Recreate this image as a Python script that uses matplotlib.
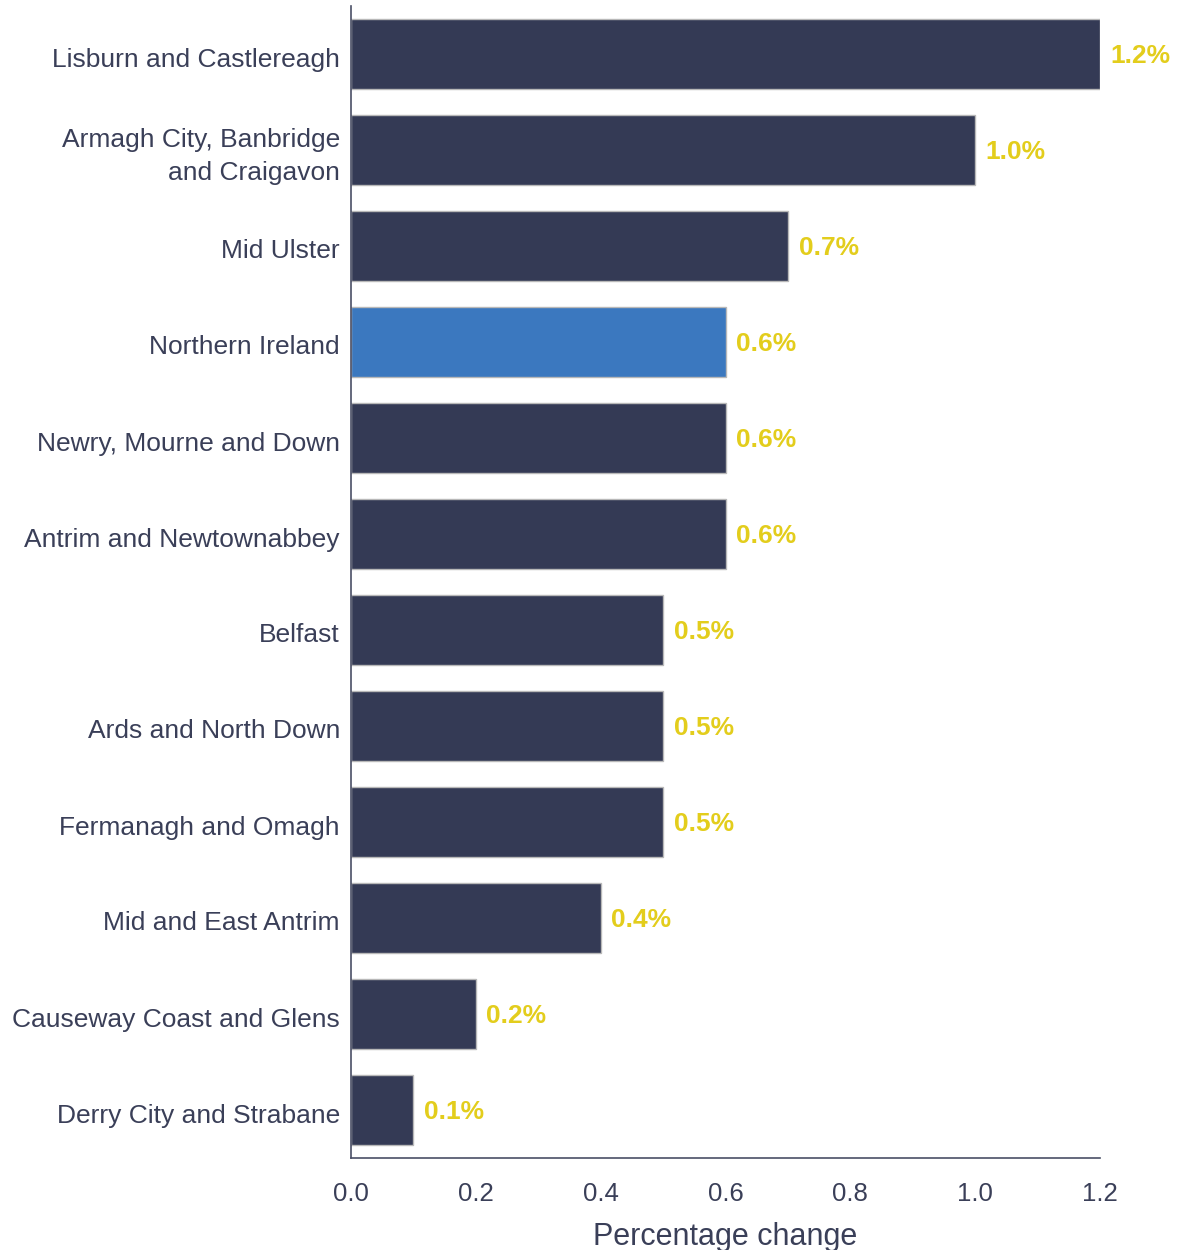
import matplotlib
matplotlib.use("Agg")
import matplotlib.pyplot as plt
import matplotlib.transforms as mtransforms

areas = ["Lisburn and Castlereagh", "Armagh City, Banbridge\nand Craigavon", "Mid Ulster",
         "Northern Ireland", "Newry, Mourne and Down", "Antrim and Newtownabbey", "Belfast",
         "Ards and North Down", "Fermanagh and Omagh", "Mid and East Antrim",
         "Causeway Coast and Glens", "Derry City and Strabane"]
values = [1.2, 1.0, 0.7, 0.6, 0.6, 0.6, 0.5, 0.5, 0.5, 0.4, 0.2, 0.1]
labels = ["1.2%", "1.0%", "0.7%", "0.6%", "0.6%", "0.6%", "0.5%", "0.5%", "0.5%", "0.4%", "0.2%", "0.1%"]
xticks = [0.0, 0.2, 0.4, 0.6, 0.8, 1.0, 1.2]

plt.rcParams['font.family'] = ['Liberation Sans', 'DejaVu Sans']
text_col = "#3a3f58"
dark = "#343a55"
hl = "#3b78bf"
yellow = "#e3cd1c"

fig = plt.figure(figsize=(11.78, 12.5), dpi=100)
ax = fig.add_axes([351/1178, 1 - 1158/1250, (1100-351)/1178, (1158-6)/1250])

ys = list(range(len(areas)))
colors = [hl if a == "Northern Ireland" else dark for a in areas]
ax.barh(ys, values, height=0.73, color=colors, edgecolor="#b8b8b8", linewidth=1.0)
for y, v, l in zip(ys, values, labels):
    ax.text(v + 0.017, y + 0.02, l, color=yellow, fontsize=19, fontweight="bold",
            va="center", ha="left")

ax.set_ylim(len(areas) - 0.5, -0.5)
ax.set_xlim(0, 1.2)
ax.set_yticks(ys)
ax.set_yticklabels(areas, fontsize=19, color=text_col, multialignment="right",
                   linespacing=1.45)
ax.set_xticks(xticks)
ax.set_xticklabels([f"{t:.1f}" for t in xticks], fontsize=18.5, color=text_col)
ax.tick_params(axis="both", length=0)
ax.tick_params(axis="y", pad=8)
ax.tick_params(axis="x", pad=17)
ax.set_xlabel("Percentage change", fontsize=22, color=text_col, labelpad=12)
offset = mtransforms.ScaledTranslation(0, -3/100, fig.dpi_scale_trans)
for lab in ax.get_yticklabels():
    if "\n" not in lab.get_text():
        lab.set_transform(lab.get_transform() + offset)
for s in ["top", "right"]:
    ax.spines[s].set_visible(False)
for s in ["left", "bottom"]:
    ax.spines[s].set_color("#4a4f66")
    ax.spines[s].set_linewidth(1.2)

fig.savefig("out.png", dpi=100)
